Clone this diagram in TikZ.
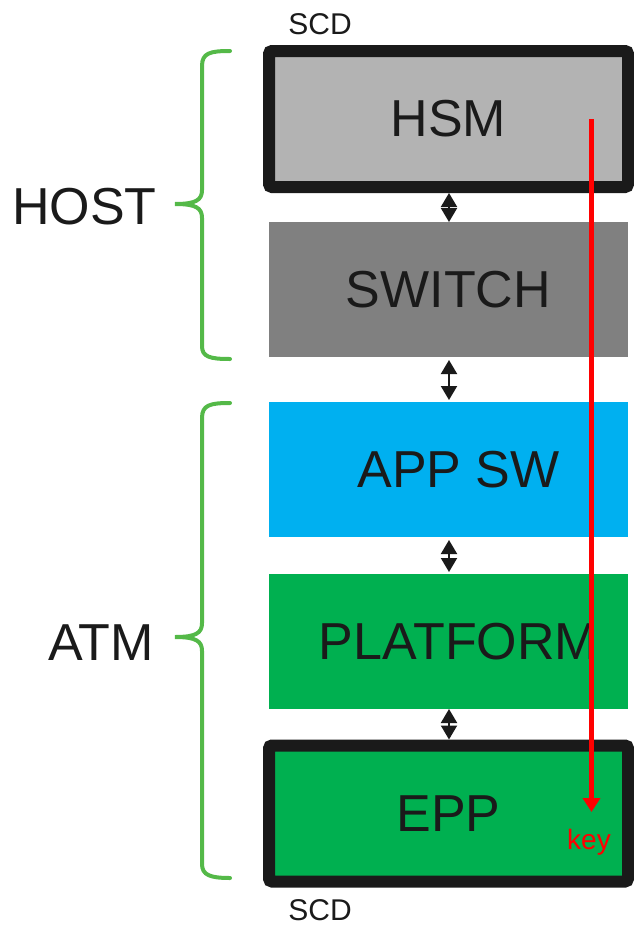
\documentclass[tikz,border=0pt]{standalone}
\usepackage{fontspec}
\setmainfont{Liberation Sans}
\usetikzlibrary{arrows.meta}
\definecolor{ink}{HTML}{1A1A1A}
\definecolor{hsmgray}{HTML}{B3B3B3}
\definecolor{swgray}{HTML}{808080}
\definecolor{appblue}{HTML}{00B0F0}
\definecolor{platgreen}{HTML}{00B050}
\definecolor{bracegreen}{HTML}{54B948}
\definecolor{keyred}{HTML}{FF0000}
\tikzset{
  layer/.style={minimum width=359pt, minimum height=135pt, inner sep=0pt, outer sep=0pt,
    text=ink, font=\fontsize{52}{60}\selectfont},
  scdbox/.style={layer, draw=ink, line width=12pt, rounded corners=3pt, minimum height=136pt, outer sep=6pt},
  link/.style={ink, line width=2pt, {Triangle[width=16pt,length=14pt]}-{Triangle[width=16pt,length=14pt]}},
  brace/.style={bracegreen, line width=4pt, line cap=round},
  side/.style={text=ink, font=\fontsize{52}{60}\selectfont, inner sep=0pt},
  small/.style={text=ink, font=\fontsize{30}{36}\selectfont, inner sep=0pt},
}
\begin{document}
\begin{tikzpicture}[x=1pt,y=-1pt]
\useasboundingbox (0,0) rectangle (633,926);
\node[scdbox, fill=hsmgray] (hsm) at (448.5,119) {HSM};
\node[layer, fill=swgray] (switch) at (448.5,289.5) {SWITCH};
\node[layer, fill=appblue] (app) at (448.5,469.5) {\hspace*{20pt}APP SW};
\node[layer, fill=platgreen] (plat) at (448.5,641.5) {\hspace*{20pt}PLATFORM};
\node[scdbox, fill=platgreen] (epp) at (448.5,813.5) {EPP};

\draw[link] ([xshift=0.5pt]hsm.south) -- ([xshift=0.5pt]switch.north);
\draw[link] ([yshift=-3pt,xshift=0.5pt]switch.south) -- ([yshift=2pt,xshift=0.5pt]app.north);
\draw[link] ([yshift=-3pt,xshift=0.5pt]app.south) -- ([yshift=2pt,xshift=0.5pt]plat.north);
\draw[link] ([xshift=0.5pt]plat.south) -- ([xshift=0.5pt]epp.north);

\node[small] (scdtop) at (320,24) {SCD};
\node[small] (scdbot) at (320,910) {SCD};

\coordinate (keystart) at (591.5,119);
\coordinate (keyend) at (591.5,812);
\draw[keyred, line width=5pt, -{Triangle[width=17pt,length=14pt]}] (keystart) -- (keyend);
\node[font=\fontsize{28}{34}\selectfont, text=keyred, inner sep=0pt] (key) at (589,842) {key};

\node[side] (host) at (84.5,207) {HOST};
\node[side] (atm) at (101,643) {ATM};

\draw[brace] (230,51) .. controls (210,51) and (202,53) .. (202,66) -- (202,190)
  .. controls (202,200) and (196,204) .. (175,204)
  .. controls (196,204) and (202,208) .. (202,218) -- (202,346)
  .. controls (202,357) and (210,359) .. (230,359);
\draw[brace] (230,403) .. controls (210,403) and (202,405) .. (202,418) -- (202,623)
  .. controls (202,633) and (196,637) .. (175,637)
  .. controls (196,637) and (202,641) .. (202,651) -- (202,864)
  .. controls (202,875) and (210,878) .. (230,878);
\end{tikzpicture}
\end{document}
